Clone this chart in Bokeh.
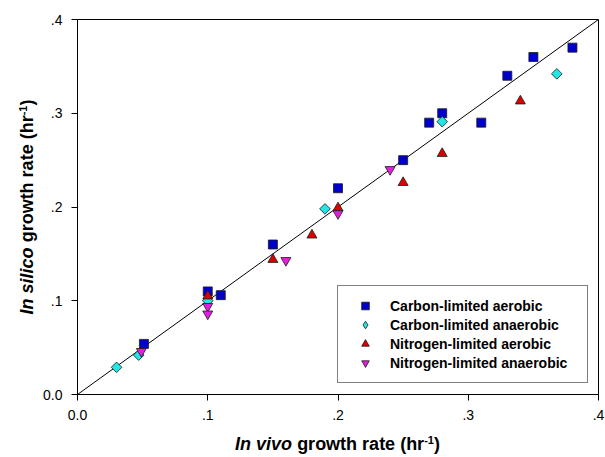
import math
from bokeh.plotting import figure
from bokeh.layouts import column, row
from bokeh.models import Range1d, FixedTicker, Legend, LegendItem
from bokeh.core.properties import value
from bokeh.embed import file_html
from bokeh.resources import INLINE

# ---------------- data ----------------
series_names = ["Carbon-limited aerobic", "Carbon-limited anaerobic",
                "Nitrogen-limited aerobic", "Nitrogen-limited anaerobic"]

ca_x = [0.051, 0.10, 0.11, 0.15, 0.20, 0.25, 0.27, 0.28, 0.31, 0.33, 0.35, 0.38]
ca_y = [0.054, 0.110, 0.106, 0.160, 0.220, 0.250, 0.290, 0.300, 0.290, 0.340, 0.360, 0.370]

can_x = [0.030, 0.047, 0.10, 0.19, 0.28, 0.368]
can_y = [0.029, 0.042, 0.100, 0.198, 0.291, 0.342]

na_x = [0.10, 0.15, 0.18, 0.20, 0.25, 0.28, 0.34]
na_y = [0.105, 0.144, 0.170, 0.199, 0.226, 0.257, 0.313]

nan_x = [0.049, 0.10, 0.10, 0.16, 0.20, 0.24]
nan_y = [0.046, 0.094, 0.086, 0.143, 0.193, 0.240]

# identity line y = x
line_x = [0.0, 0.4]
line_y = [0.0, 0.4]

tick_vals = [0.0, 0.1, 0.2, 0.3, 0.4]
tick_labels = ["0.0", ".1", ".2", ".3", ".4"]

x_title = ("In vivo", "growth rate (hr", "-1", ")")
y_title = ("In silico", "growth rate (hr", "-1", ")")

# ---------------- layout sizes ----------------
TOTAL_W, TOTAL_H = 605, 457
YT_W = 40          # strip holding the y title
XT_H = 33          # strip holding the x title
W, H = TOTAL_W - YT_W, TOTAL_H - XT_H
ML, MR, MT, MB = 36, 7, 19, 30
FW, FH = W - ML - MR, H - MT - MB

# ---------------- main figure ----------------
p = figure(width=W, height=H, x_range=Range1d(0, 0.4), y_range=Range1d(0, 0.4),
           output_backend="svg", toolbar_location=None, title=None,
           min_border_left=ML, min_border_right=MR,
           min_border_top=MT, min_border_bottom=MB)
p.grid.visible = False
p.outline_line_color = "black"
p.outline_line_width = 1
p.background_fill_color = "white"
p.border_fill_color = "white"

for ax in (p.xaxis[0], p.yaxis[0]):
    ax.ticker = FixedTicker(ticks=tick_vals)
    ax.major_label_overrides = {v: t for v, t in zip(tick_vals, tick_labels)}
    ax.minor_tick_line_color = None
    ax.major_tick_in = 0
    ax.major_tick_out = 6
    ax.major_tick_line_color = "black"
    ax.axis_line_color = "black"
    ax.major_label_text_font = "Liberation Sans"
    ax.major_label_text_font_size = "14px"
    ax.major_label_text_color = "black"
    ax.major_label_standoff = 9

p.line(line_x, line_y, line_color="black", line_width=1)

edge = "#1a1a1a"
colors = ["#0000cc", "#22e6e6", "#dd0000", "#e020e0"]
r1 = p.scatter(ca_x, ca_y, marker="square", size=9, fill_color=colors[0],
               line_color=edge, line_width=0.8)
r2 = p.scatter(can_x, can_y, marker="square", angle=math.pi / 4, size=7.5,
               fill_color=colors[1], line_color=edge, line_width=0.8)
r3 = p.scatter(na_x, na_y, marker="triangle", size=10, fill_color=colors[2],
               line_color=edge, line_width=0.8)
r4 = p.scatter(nan_x, nan_y, marker="inverted_triangle", size=10,
               fill_color=colors[3], line_color=edge, line_width=0.8)
# legend proxy for the diamond (legend glyphs are drawn unrotated)
r2_leg = p.scatter([float("nan")], [float("nan")], marker="diamond", size=9,
                   fill_color=colors[1], line_color=edge, line_width=0.8)

legend = Legend(items=[LegendItem(label=n, renderers=[r]) for n, r in
                       zip(series_names, [r1, r2_leg, r3, r4])],
                location=(260, 11),
                padding=10, spacing=0, margin=0,
                glyph_width=34, glyph_height=19, label_height=19,
                label_standoff=8, label_width=187,
                label_text_font="Liberation Sans", label_text_font_style="bold",
                label_text_font_size="14px", label_text_color="black",
                border_line_color="black", border_line_width=1,
                background_fill_color="white", background_fill_alpha=1)
p.add_layout(legend, "center")

# ---------------- axis-title strips ----------------
BOLD_W = {"I": 278, "n": 611, " ": 278, "v": 556, "i": 278, "o": 611, "g": 611,
          "r": 389, "w": 778, "t": 333, "h": 611, "a": 556, "e": 556, "s": 556,
          "l": 278, "c": 556, "(": 333, ")": 333, "-": 333, "1": 556}

def tw(s, size):
    return sum(BOLD_W.get(ch, 556) for ch in s) * size / 1000.0

FS, SS, RAISE = 18, 11, 7
MID = 0.35

def strip(w, h, top=0, bottom=0):
    fh = h - top - bottom
    f = figure(width=w, height=h, x_range=Range1d(0, w), y_range=Range1d(0, fh),
               output_backend="svg", toolbar_location=None, title=None,
               x_axis_type=None, y_axis_type=None,
               min_border_left=0, min_border_right=0,
               min_border_top=top, min_border_bottom=bottom)
    f.grid.visible = False
    f.outline_line_color = None
    f.background_fill_color = "white"
    f.border_fill_color = "white"
    return f

def draw_title(f, pieces, vertical, base, center):
    styles = [(FS, "bold italic", 0, tw(" ", FS)), (FS, "bold", 0, 0),
              (SS, "bold", RAISE, 0), (FS, "bold", 0, 0)]
    total = sum(tw(t, s) + g for t, (s, _, _, g) in zip(pieces, styles))
    pos = center - total / 2.0
    for t, (s, st, rz, gap) in zip(pieces, styles):
        w = tw(t, s)
        mid_along = pos + w / 2.0
        up = rz + MID * s
        if vertical:
            xx, yy, ang = base - up, mid_along, math.pi / 2
        else:
            xx, yy, ang = mid_along, base + up, 0
        f.text(x=[xx], y=[yy], text=[t], angle=ang,
               text_font=value("Liberation Sans"), text_font_size=f"{s}px",
               text_font_style=st, text_color="black",
               text_align="center", text_baseline="middle")
        pos += w + gap

# y strip: its frame lines up with the main frame (same top/bottom borders)
yfig = strip(YT_W, H, top=MT, bottom=MB)
draw_title(yfig, y_title, True, base=33, center=FH / 2.0)

xfig = strip(TOTAL_W, XT_H)
draw_title(xfig, x_title, False, base=7, center=YT_W + ML + FW / 2.0)

layout = column(row(yfig, p, spacing=0), xfig, spacing=0)

open("out.html", "w").write(file_html(layout, INLINE))
